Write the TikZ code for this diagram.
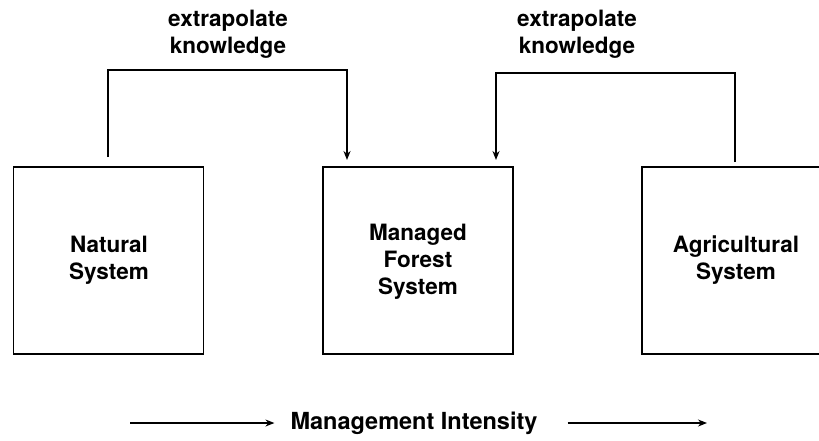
\documentclass[tikz,border=0pt]{standalone}
\usepackage{fontspec}
\setmainfont{TeX Gyre Heros}
\usetikzlibrary{arrows.meta}

\begin{document}
\begin{tikzpicture}[x=1pt, y=-1pt, line width=1.6pt,
    sysbox/.style={draw, minimum width=190pt, minimum height=187pt, inner sep=0pt},
    lbl/.style={font=\fontsize{22.5}{27}\selectfont\bfseries, align=center},
    tip/.style={-{Stealth[length=9pt, width=7pt]}}]
    \clip (0,0) rectangle (819,440);

    \node[sysbox] (N) at (108.5, 260.5) {};
    \node[sysbox] (M) at (418, 260.5) {};
    \node[sysbox] (A) at (737, 260.5) {};

    \node[lbl] at (109, 260) {Natural\\System};
    \node[lbl] at (418, 262) {Managed\\Forest\\System};
    \node[lbl] at (736, 260) {Agricultural\\System};

    \node[lbl] at (228, 34) {extrapolate\\knowledge};
    \node[lbl] at (577, 34) {extrapolate\\knowledge};

    \coordinate (N1) at (108, 157);
    \coordinate (M1) at (347, 160);
    \coordinate (M2) at (496, 160);
    \coordinate (A1) at (735, 162);

    \draw[tip] (N1) |- (228, 70) -| (M1);
    \draw[tip] (A1) |- (577, 73) -| (M2);

    \node[lbl, font=\fontsize{23.5}{27}\selectfont\bfseries] (I) at (414, 423) {Management Intensity};
    \coordinate (L0) at (130, 423);
    \coordinate (R1) at (707, 423);
    \draw[tip, line width=1.2pt] (L0) -- ([xshift=-12pt]I.west);
    \draw[tip, line width=1.2pt] ([xshift=26pt]I.east) -- (R1);
\end{tikzpicture}
\end{document}
